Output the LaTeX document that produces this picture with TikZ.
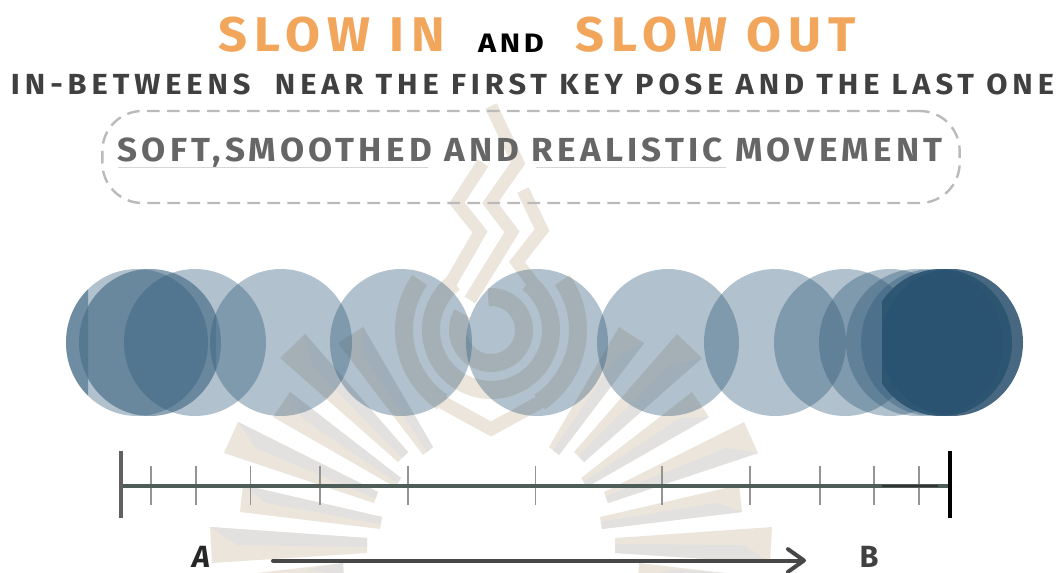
\documentclass[tikz,border=0pt]{standalone}
\usepackage{fontspec}
\setmainfont{Fira Sans}
\newfontfamily\hand[LetterSpace=12]{Fira Sans}
\newfontfamily\handb[LetterSpace=16]{Fira Sans}
\newfontfamily\handt[LetterSpace=14]{Fira Sans}
\usetikzlibrary{arrows.meta,calc}
\definecolor{beige}{HTML}{EBE5DC}
\definecolor{beigegrey}{HTML}{E3E1E0}
\definecolor{disc}{HTML}{2C5777}
\definecolor{titleor}{HTML}{F2A65C}
\definecolor{axisc}{HTML}{4F5D58}
\tikzset{
  wm/.style={draw=beige,line width=9.5pt,miter limit=10,line join=miter},
  wmring/.style={draw=beige,line width=13.5pt},
  ball/.style={fill=disc,fill opacity=.37},
  tick/.style={draw=#1,line width=.9pt},
  txt/.style={inner sep=0pt},
}
\newcommand{\ray}[8]{%
  \fill[beige] (#1,#2)--(#3,#4)--(#7,#8)--(#5,#6)--cycle;
  \fill[beigegrey] (#1,#2)--($(#1,#2)!.5!(#3,#4)!.17!($(#5,#6)!.5!(#7,#8)$)$)--($(#5,#6)!.6!(#7,#8)$)--(#5,#6)--cycle;
}
\newcommand{\disc}[1]{\fill[ball] (#1,342.5) ellipse [x radius=71,y radius=73.5];}
\begin{document}
\begin{tikzpicture}[x=.75pt,y=-.75pt]
\useasboundingbox (0,0) rectangle (1057,573);
% watermark rays
\ray{305}{334}{280}{358}{408}{452}{398}{462}
\ray{363}{327}{338}{343}{433}{447}{423}{455}
\ray{290}{392}{273}{417}{401}{478}{395}{487}
\ray{238}{422}{224}{453}{378}{492}{374}{503}
\ray{243}{485}{240}{512}{382}{517}{380}{529}
\ray{210}{527}{212}{563}{367}{538}{367}{553}
\ray{343}{563}{257}{573}{344}{580}{344}{573}
\begin{scope}[xshift=736.5pt,xscale=-1]
\ray{280}{358}{305}{334}{398}{462}{408}{452}
\ray{338}{343}{363}{327}{423}{455}{433}{447}
\ray{273}{417}{290}{392}{395}{487}{401}{478}
\ray{224}{453}{238}{422}{374}{503}{378}{492}
\ray{240}{512}{243}{485}{380}{529}{382}{517}
\ray{212}{563}{210}{527}{367}{553}{367}{538}
\ray{257}{573}{343}{563}{344}{573}{344}{580}
\end{scope}
% watermark flames and rings
\draw[wm] (491,106)--(518,163)--(490,203)--(512,232)--(470,300);
\draw[wm] (483,163)--(457,203)--(480,232)--(450,284);
\draw[wm] (523,190)--(542,230)--(517,262)--(532,282);
\draw[wmring] plot[domain=150:455,samples=60,smooth] ({491+33*cos(\x)},{330-33*sin(\x)});
\draw[wmring] plot[domain=128:412,samples=60,smooth] ({491+60*cos(\x)},{330-60*sin(\x)});
\draw[wmring] plot[domain=145:236,samples=30,smooth] ({491+87*cos(\x)},{330-87*sin(\x)});
\draw[wmring] plot[domain=304:395,samples=30,smooth] ({491+87*cos(\x)},{330-87*sin(\x)});
\draw[wm,line width=10pt] (440,401)--(491,429)--(542,401);
% discs
\foreach \c in {137,150,195,281,401,537,668,775,845,890,917,932}{\disc{\c}}
\begin{scope}
  \clip (66,260) rectangle (88,425);
  \fill[disc,fill opacity=.5] (137,342.5) ellipse [x radius=71,y radius=73.5];
\end{scope}
\begin{scope}
  \clip (88,260) rectangle (216,425);
  \fill[disc,fill opacity=.28] (150,342.5) ellipse [x radius=71,y radius=73.5];
\end{scope}
\begin{scope}
  \clip (882,260) rectangle (1030,425);
  \fill[disc!90!black,fill opacity=.85] (952,342.5) ellipse [x radius=71,y radius=73.5];
  \fill[disc!95!black,fill opacity=.9] (941,342.5) ellipse [x radius=71,y radius=73.5];
\end{scope}
% titles
\node[txt,text=titleor,font=\handt\bfseries\fontsize{36.5}{40}\selectfont] (slowin) at (331.5,35) {\scalebox{1.04}[1]{SLOW IN}};
\node[txt,text=black,font=\hand\bfseries\fontsize{20}{24}\selectfont] (andw) at (511,43) {\scalebox{1.15}[1]{AND}};
\node[txt,text=titleor,font=\handt\bfseries\fontsize{36.5}{40}\selectfont] (slowout) at (716,35) {\scalebox{1.04}[1]{SLOW OUT}};
\node[txt,text=black!75,font=\handb\bfseries\fontsize{21.8}{26}\selectfont] (sub) at (532.5,84) {\scalebox{1.059}[1]{IN-BETWEENS\ \ NEAR THE FIRST KEY POSE AND THE LAST ONE}};
\node[draw=black!27,dash pattern=on 9.5pt off 5.5pt,line width=1.8pt,rounded corners=30pt,
  minimum width=643pt,minimum height=69pt,inner sep=0pt] (box) at (531,157) {};
\node[txt,text=black!60,font=\hand\bfseries\fontsize{25}{30}\selectfont] (soft) at (530,153) {\scalebox{1.05}[1]{SOFT,SMOOTHED AND REALISTIC MOVEMENT}};
\coordinate (u1a) at (118,167.5); \coordinate (u1b) at (428,167.5);
\coordinate (u2a) at (536,167.5); \coordinate (u2b) at (726,167.5);
\draw[black!16,line width=.8pt] (u1a)--(u1b);
\draw[black!16,line width=.8pt] (u2a)--(u2b);
% timeline
\coordinate (tl) at (121,486); \coordinate (tr) at (950,486); \coordinate (td) at (882,486); \coordinate (te) at (938,486);
\foreach \x in {151,196,250.5,320,408,535.5,662,750,820,874,919}{
  \draw[tick=black!42] (\x,466)--(\x,505);
}
\draw[draw=axisc,line width=2.4pt] (tl)--(tr);
\draw[draw=black!80,line width=1.8pt] (td)--(te);
\draw[draw=black!62,line width=2.4pt] ($(tl)+(0,-35)$)--($(tl)+(0,32)$);
\draw[draw=black,line width=2.4pt] ($(tr)+(0,-35)$)--($(tr)+(0,32)$);
% arrow
\node[txt,text=black!85,font=\fontsize{23}{26}\selectfont\itshape\bfseries] (A) at (201,557) {A};
\node[txt,text=black!75,font=\fontsize{23}{26}\selectfont\bfseries] (B) at (869,557) {B};
\coordinate (as) at (273,560.5); \coordinate (ae) at (806,560.5);
\draw[draw=black!72,line width=3pt,line cap=round,-{Straight Barb[length=12pt,width=17pt,line width=3pt,round]}] (as)--(ae);
\end{tikzpicture}
\end{document}
